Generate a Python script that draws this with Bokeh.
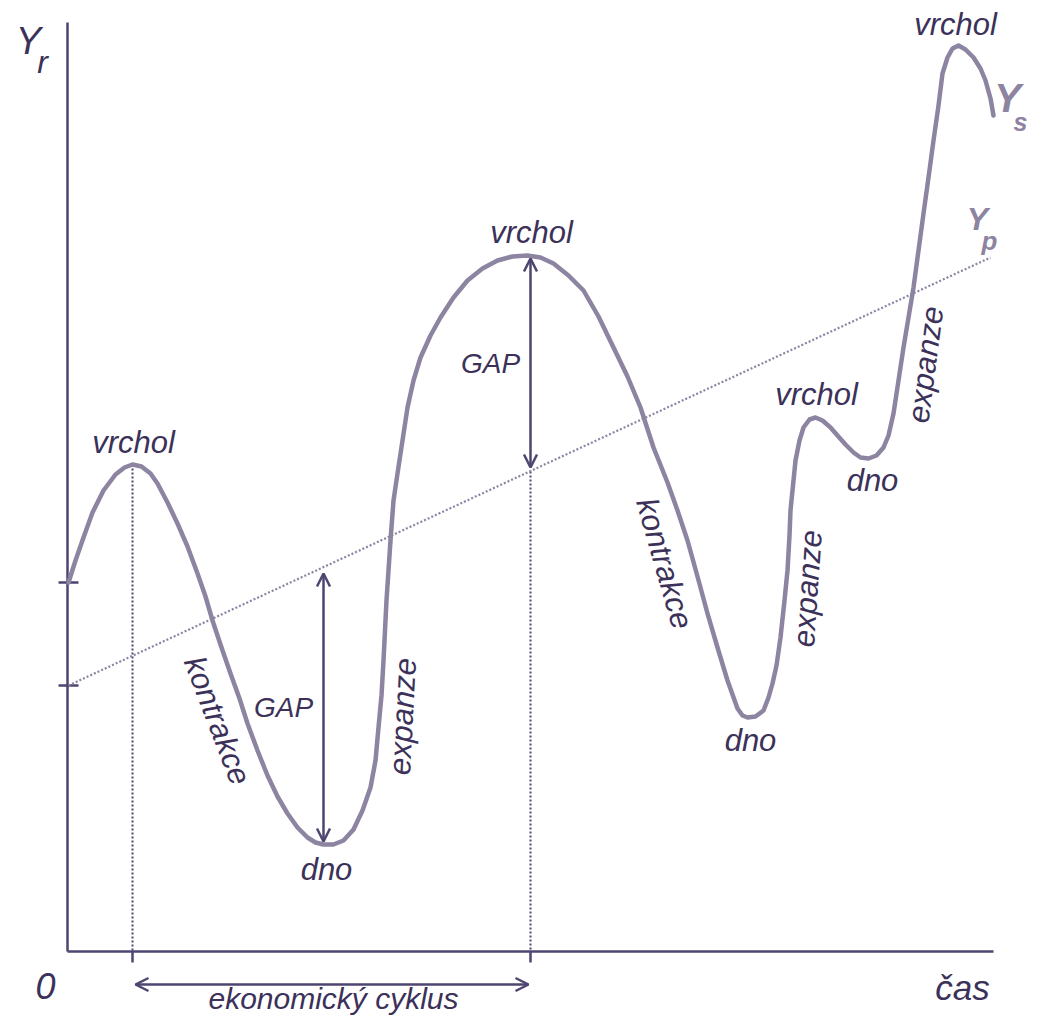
from bokeh.plotting import figure
from bokeh.models import Range1d, Arrow, OpenHead, ColumnDataSource
from bokeh.core.properties import value
from bokeh.embed import file_html
from bokeh.resources import INLINE

cycle_t = [1, 8, 16, 25, 36, 48, 57, 65, 74, 83, 90, 100, 110, 120, 130, 138, 145, 154, 163, 172,
           180, 190, 200, 210, 220, 230, 240, 248, 256, 266, 276, 286, 295, 303, 308, 311, 314, 316,
           319, 323, 326, 330, 335, 340, 346, 353, 363, 373, 386, 400, 415, 430, 445, 460, 473, 486,
           501, 516, 531, 546, 560, 573, 586, 600, 610, 620, 630, 640, 650, 660, 670, 675, 680, 688,
           696, 701, 705, 709, 713, 717, 720, 722, 723, 726, 728, 732, 736, 742, 748, 755, 763, 770,
           778, 786, 793, 801, 809, 816, 821, 826, 831, 836, 841, 846, 851, 856, 861, 866, 871, 875,
           880, 885, 891, 898, 906, 913, 918, 923, 926]
cycle_Y = [369, 391, 414, 439, 461, 477, 484, 487, 485, 478, 468, 449, 428, 405, 378, 355, 331, 304,
           278, 253, 228, 201, 176, 155, 138, 124, 114, 109, 107, 107, 111, 122, 141, 164, 191, 224,
           256, 291, 351, 411, 451, 478, 511, 544, 571, 594, 616, 634, 654, 671, 683, 691, 695, 696,
           694, 688, 676, 661, 635, 604, 575, 544, 504, 469, 441, 411, 375, 338, 304, 271, 243, 236,
           234, 235, 241, 254, 268, 286, 314, 351, 381, 416, 441, 471, 491, 511, 524, 532, 534, 531,
           524, 516, 507, 499, 494, 493, 496, 504, 516, 538, 571, 604, 634, 664, 701, 738, 774, 811,
           846, 878, 894, 903, 906, 902, 894, 883, 871, 853, 836]

potential_t = [1, 923]
potential_Y = [266, 694]

# y-axis tick levels (start of Y_s, start of Y_p)
ytick_levels = [369, 266]
# x-axis ticks: first peak and second peak (one full cycle)
cycle_ticks_t = [65, 463]
cycle_ticks_top = [487, 480]

# GAP arrows: (t, from, to)
gap_t = [256, 463]
gap_low = [110, 484]
gap_high = [378, 693]

axis_top = 929
axis_right = 926

TEXT = "#3b3159"
AXIS = "#4f4571"
CURVE = "#8c84a0"
FONT = value("Liberation Sans")

p = figure(width=1030, height=1018, x_range=Range1d(-67, 963), y_range=Range1d(-67, 951),
           output_backend="svg", toolbar_location=None, min_border=0,
           x_axis_location=None, y_axis_location=None)
p.grid.visible = False
p.outline_line_color = None
p.background_fill_color = "white"

# axes
p.line([0, 0], [0, axis_top], line_color=AXIS, line_width=2.5)
p.line([0, axis_right], [0, 0], line_color=AXIS, line_width=2.5)
p.segment(x0=[-9] * 2, x1=[11] * 2, y0=ytick_levels, y1=ytick_levels, line_color=AXIS, line_width=2.5)
p.segment(x0=cycle_ticks_t, x1=cycle_ticks_t, y0=[0, 0], y1=[-11, -11], line_color=AXIS, line_width=2.5)

# vertical dotted guides
p.segment(x0=cycle_ticks_t, x1=cycle_ticks_t, y0=cycle_ticks_top, y1=[0, 0],
          line_color=AXIS, line_width=2, line_dash="2 2")

# potential output
p.line(potential_t, potential_Y, line_color=CURVE, line_width=2.2, line_dash="2 2")

# real output
p.line(cycle_t, cycle_Y, line_color=CURVE, line_width=4.5, line_join="round", line_cap="round")

# GAP arrows
gsrc = ColumnDataSource(dict(x=gap_t, y0=gap_low, y1=gap_high))
p.add_layout(Arrow(start=OpenHead(size=13, line_color=AXIS, line_width=2.5),
                   end=OpenHead(size=13, line_color=AXIS, line_width=2.5),
                   x_start="x", y_start="y0", x_end="x", y_end="y1", source=gsrc,
                   line_color=AXIS, line_width=2.5))

# economic cycle arrow
p.add_layout(Arrow(start=OpenHead(size=13, line_color=AXIS, line_width=2.5),
                   end=OpenHead(size=13, line_color=AXIS, line_width=2.5),
                   x_start=68, y_start=-33, x_end=461, y_end=-33,
                   line_color=AXIS, line_width=2.5))


def label(x, y, txt, size, angle=0, color=TEXT, style="italic"):
    p.text(x=[x], y=[y], text=[txt], angle=angle, angle_units="deg",
           text_font=FONT, text_font_style=style, text_font_size=size,
           text_color=color, text_align="center", text_baseline="middle")


label(-39, 911, "Y", "38px")
label(-25, 890, "r", "32px")
label(-22, -34, "0", "36px")
label(895, -36, "čas", "35px")
label(266, -47, "ekonomický cyklus", "30px")

for (x, y) in [(66, 509), (464, 719), (749, 557), (888, 927)]:
    label(x, y, "vrchol", "31px")
for (x, y) in [(259, 82), (683, 211), (805, 471)]:
    label(x, y, "dno", "31px")
for (x, y) in [(216, 244), (423, 588)]:
    label(x, y, "GAP", "28px")

label(150, 231, "kontrakce", "31px", angle=-69)
label(597, 388, "kontrakce", "31px", angle=-74)
label(335, 235, "expanze", "31px", angle=87)
label(740, 363, "expanze", "31px", angle=86)
label(858, 587, "expanze", "31px", angle=82.5)

label(940, 854, "Y", "40px", color=CURVE, style="bold italic")
label(953, 830, "s", "25px", color=CURVE, style="bold italic")
label(910, 733, "Y", "32px", color=CURVE, style="bold italic")
label(922, 711, "p", "26px", color=CURVE, style="bold italic")

open("out.html", "w").write(file_html(p, INLINE))
